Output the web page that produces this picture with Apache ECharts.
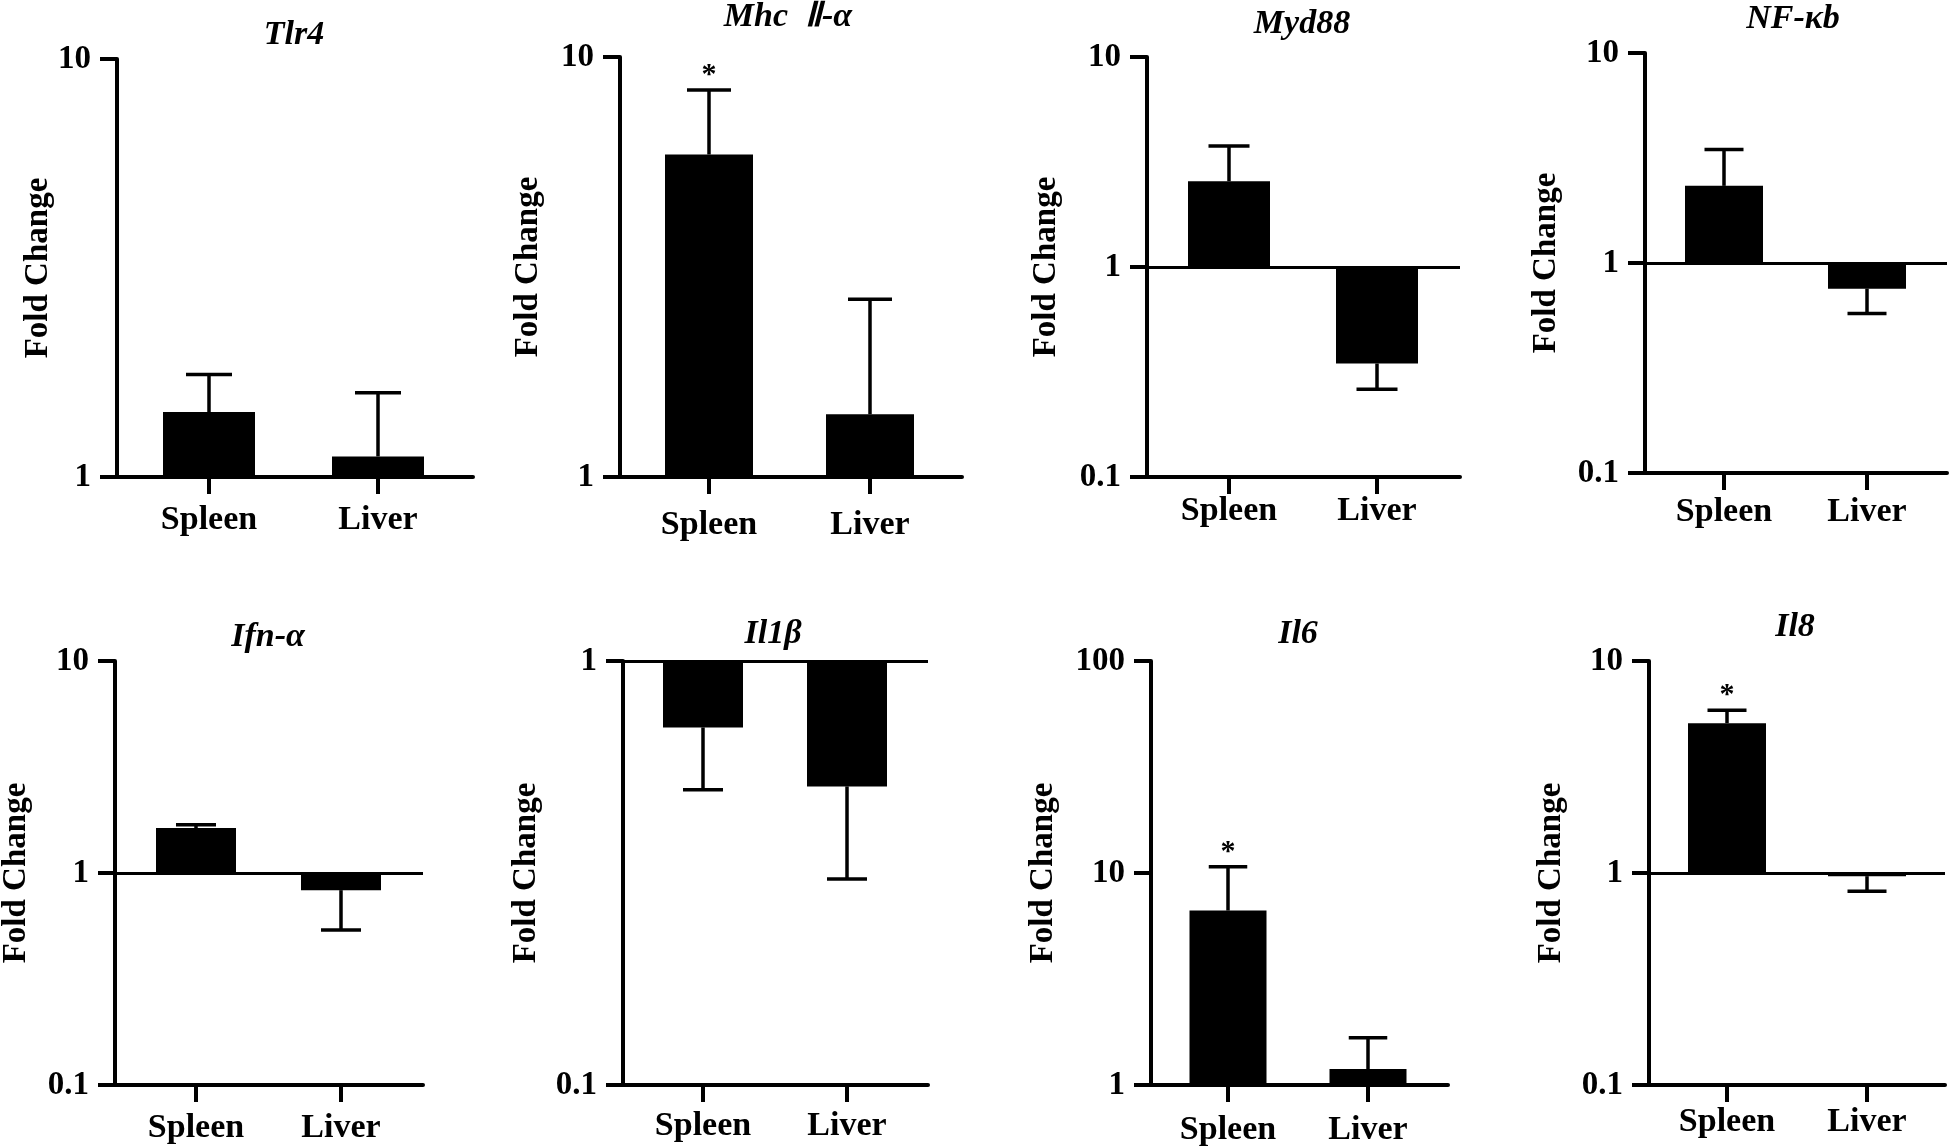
<!DOCTYPE html>
<html>
<head>
<meta charset="utf-8">
<script src="https://cdn.jsdelivr.net/npm/echarts@6/dist/echarts.min.js"></script>
<style>
html,body{margin:0;padding:0;background:#fff;}
#chart{width:1951px;height:1146px;}
</style>
</head>
<body>
<div id="chart"></div>
<script>
// ---- data ----
const panelTitles = ['Tlr4', 'Mhc  Ⅱ-α', 'Myd88', 'NF-κb', 'Ifn-α', 'Il1β', 'Il6', 'Il8'];
const categories = ['Spleen', 'Liver'];
const meanSpleen = [1.43, 5.86, 2.56, 2.33, 1.63, 0.697, 6.65, 5.09];
const meanLiver = [1.12, 1.41, 0.347, 0.755, 0.83, 0.506, 1.19, 0.966];
const whiskerSpleen = [1.76, 8.34, 3.77, 3.47, 1.69, 0.497, 10.7, 5.86];
const whiskerLiver = [1.59, 2.65, 0.262, 0.575, 0.538, 0.306, 1.67, 0.82];
const sigSpleen = [0, 1, 0, 0, 0, 0, 1, 1];
const sigLiver = [0, 0, 0, 0, 0, 0, 0, 0];
const yTickLabels = [
  ['1', '10'], ['1', '10'], ['0.1', '1', '10'], ['0.1', '1', '10'],
  ['0.1', '1', '10'], ['0.1', '1'], ['1', '10', '100'], ['0.1', '1', '10']
];
const yAxisTitle = 'Fold Change';

// ---- layout (pixels) ----
const layout = [
  {ax:117,  right:473,  top:59,  bottom:477,  c1:209,  c2:378,  bw:92, titleX:294,  titleY:36,  nameGap:62, xm:26},
  {ax:620,  right:962,  top:57,  bottom:477,  c1:709,  c2:870,  bw:88, titleX:788,  titleY:18,  nameGap:75, xm:31},
  {ax:1147, right:1460, top:57,  bottom:477,  c1:1229, c2:1377, bw:82, titleX:1302, titleY:25,  nameGap:84, xm:17},
  {ax:1645, right:1947, top:53,  bottom:473,  c1:1724, c2:1867, bw:78, titleX:1793, titleY:20,  nameGap:82, xm:22},
  {ax:115,  right:423,  top:661, bottom:1085, c1:196,  c2:341,  bw:80, titleX:268,  titleY:638, nameGap:82, xm:26},
  {ax:623,  right:928,  top:661, bottom:1085, c1:703,  c2:847,  bw:80, titleX:773,  titleY:635, nameGap:80, xm:24},
  {ax:1151, right:1448, top:661, bottom:1085, c1:1228, c2:1368, bw:77, titleX:1298, titleY:635, nameGap:91, xm:28},
  {ax:1649, right:1945, top:661, bottom:1085, c1:1727, c2:1867, bw:78, titleX:1795, titleY:628, nameGap:81, xm:20}
];

const FONT = 'Liberation Serif, Times New Roman, serif';
const AXW = 4;
const chart = echarts.init(document.getElementById('chart'), null, {renderer: 'canvas'});

const grids = [], xAxes = [], yAxes = [], series = [], titles = [];

layout.forEach((L, i) => {
  const unit = L.c2 - L.c1;
  const xMin = 1 - (L.c1 - L.ax) / unit;
  const xMax = 2 + (L.right - L.c2) / unit;
  const barUnits = L.bw / unit;
  const ticks = yTickLabels[i].map(Number);
  const yMin = ticks[0], yMax = ticks[ticks.length - 1];

  grids.push({left: L.ax, top: L.top, width: L.right - L.ax, height: L.bottom - L.top,
              containLabel: false, outerBoundsMode: 'none'});
  titles.push({text: panelTitles[i], left: L.titleX, top: L.titleY - 18, textAlign: 'center', padding: 0,
               textStyle: {fontFamily: FONT, fontWeight: 'bold', fontStyle: 'italic', fontSize: 34, color: '#000'}});
  xAxes.push({
    type: 'value', gridIndex: i, min: xMin, max: xMax,
    axisLine: {show: true, onZero: false, lineStyle: {color: '#000', width: AXW}},
    axisTick: {show: true, customValues: [1, 2], length: 17, lineStyle: {color: '#000', width: AXW}},
    axisLabel: {show: true, customValues: [1, 2], margin: L.xm,
                formatter: v => categories[Math.round(v) - 1] || '',
                fontFamily: FONT, fontWeight: 'bold', fontSize: 34, color: '#000'},
    splitLine: {show: false}, minorTick: {show: false}
  });
  yAxes.push({
    type: 'log', logBase: 10, gridIndex: i, min: yMin, max: yMax,
    name: yAxisTitle, nameLocation: 'middle', nameGap: L.nameGap, nameRotate: 90, nameMoveOverlap: false,
    nameTextStyle: {fontFamily: FONT, fontWeight: 'bold', fontSize: 33, color: '#000'},
    axisLine: {show: true, onZero: false, lineStyle: {color: '#000', width: AXW}},
    axisTick: {show: true, customValues: ticks, length: 17, lineStyle: {color: '#000', width: AXW}},
    axisLabel: {show: true, customValues: ticks, margin: 26,
                formatter: v => String(+(+v).toPrecision(3)),
                fontFamily: FONT, fontWeight: 'bold', fontSize: 33, color: '#000'},
    splitLine: {show: false}, minorTick: {show: false}, minorSplitLine: {show: false}
  });

  const data = [
    [1, meanSpleen[i], whiskerSpleen[i], sigSpleen[i]],
    [2, meanLiver[i], whiskerLiver[i], sigLiver[i]]
  ];
  const s = {
    type: 'custom', xAxisIndex: i, yAxisIndex: i, data: data, clip: false,
    encode: {x: 0, y: 1},
    renderItem: function (params, api) {
      const x = api.value(0), v = api.value(1), w = api.value(2), sig = api.value(3);
      const base = api.coord([x, 1]);
      const top = api.coord([x, v]);
      const wEnd = api.coord([x, w]);
      const lft = api.coord([x - barUnits / 2, 1]);
      const rgt = api.coord([x + barUnits / 2, 1]);
      const bw = rgt[0] - lft[0];
      const cx = top[0];
      const children = [
        {type: 'rect', shape: {x: lft[0], y: Math.min(base[1], top[1]), width: bw, height: Math.abs(base[1] - top[1])},
         style: {fill: '#000'}},
        {type: 'line', shape: {x1: cx, y1: top[1], x2: cx, y2: wEnd[1]}, style: {stroke: '#000', lineWidth: 3.5}},
        {type: 'line', shape: {x1: cx - bw / 4, y1: wEnd[1], x2: cx + bw / 4, y2: wEnd[1]}, style: {stroke: '#000', lineWidth: 3.5}}
      ];
      if (sig) {
        children.push({type: 'text', style: {text: '*', x: cx, y: wEnd[1] - 15, align: 'center', verticalAlign: 'middle',
          font: 'bold 30px ' + FONT, fill: '#000'}});
      }
      return {type: 'group', children: children};
    }
  };
  if (yMin < 1) {
    s.markLine = {silent: true, symbol: 'none', label: {show: false}, animation: false,
                  lineStyle: {color: '#000', width: 3, type: 'solid'}, data: [{yAxis: 1}]};
  }
  series.push(s);
});

chart.setOption({
  backgroundColor: '#fff',
  animation: false,
  title: titles,
  grid: grids,
  xAxis: xAxes,
  yAxis: yAxes,
  series: series
});
</script>
</body>
</html>
